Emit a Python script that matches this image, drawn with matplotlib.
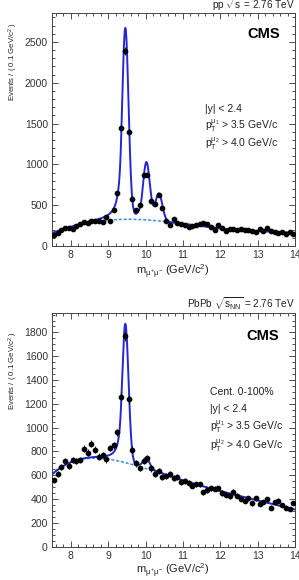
import numpy as np
import matplotlib
matplotlib.use("Agg")
import matplotlib.pyplot as plt
from matplotlib.ticker import MultipleLocator

plt.rcParams['font.family'] = ['Liberation Sans', 'DejaVu Sans']
plt.rcParams['mathtext.fontset'] = 'custom'
plt.rcParams['mathtext.rm'] = 'Liberation Sans'
plt.rcParams['mathtext.it'] = 'Liberation Sans'
plt.rcParams['mathtext.bf'] = 'Liberation Sans:bold'

# bin centres (0.1 GeV bins)
mass = np.round(np.arange(7.55, 14.0, 0.1), 2)

# pp data
pp_counts = [135, 165, 195, 215, 220, 205, 245, 270, 290, 278,
             305, 310, 300, 298, 350, 306, 435, 653, 1445, 2390,
             1395, 572, 445, 500, 865, 875, 555, 515, 620, 470,
             310, 257, 330, 286, 270, 257, 237, 249, 257, 270,
             278, 266, 237, 196, 257, 216, 184, 208, 212, 196,
             204, 196, 196, 188, 167, 204, 184, 220, 188, 171,
             155, 167, 147, 176, 147]

# PbPb data
pbpb_counts = [557, 609, 671, 720, 680, 729, 720, 729, 823, 791,
               863, 814, 757, 771, 734, 829, 851, 960, 1260, 1770,
               1238, 814, 700, 663, 720, 743, 657, 614, 634, 586,
               591, 609, 577, 586, 543, 551, 537, 514, 523, 523,
               457, 477, 491, 486, 491, 451, 437, 423, 463, 429,
               400, 386, 406, 363, 406, 357, 377, 397, 329, 377,
               386, 349, 329, 314, 366]

# fit: background read at these masses, smoothed with a polynomial
bkg_mass = [7.5, 8.0, 8.5, 9.0, 9.5, 10.0, 10.5, 11.0, 11.5, 12.0, 12.5, 13.0, 13.5, 14.0]
pp_bkg = [155, 228, 285, 315, 325, 320, 302, 270, 245, 212, 198, 185, 172, 158]
pbpb_bkg = [612, 691, 750, 745, 700, 657, 600, 557, 514, 471, 429, 386, 349, 314]

# Upsilon(1S, 2S, 3S) peaks: mass, width, height
ups_mass = [9.46, 10.023, 10.355]
ups_sigma = [0.085, 0.09, 0.093]
pp_amp = [2330, 690, 338]
pbpb_amp = [1165, 90, 8]


def crystal_ball(x, mu, sig, alpha=1.4, n=2.0):
    t = (x - mu) / sig
    A = (n / alpha) ** n * np.exp(-alpha ** 2 / 2)
    B = n / alpha - alpha
    out = np.exp(-t ** 2 / 2)
    low = t < -alpha
    out[low] = A * (B - t[low]) ** (-n)
    return out


def draw(ax, counts, bkg, amp, ymax, ymajor, yminor):
    xx = np.linspace(7.5, 14, 800)
    coef = np.polyfit(bkg_mass, bkg, 5)
    bg = np.polyval(coef, xx)
    total = bg.copy()
    for m, s, a in zip(ups_mass, ups_sigma, amp):
        total += a * crystal_ball(xx, m, s)
    ax.plot(xx, bg, color='#3a90e8', lw=1.1, ls=(0, (2, 1.2)), zorder=2)
    ax.plot(xx, total, color='#2626d2', lw=1.4, zorder=3)
    c = np.array(counts, dtype=float)
    ax.errorbar(mass, c, yerr=np.sqrt(c), fmt='o', color='black', ms=3.1,
                elinewidth=0.6, capsize=0, zorder=4)
    ax.set_xlim(7.5, 14)
    ax.set_ylim(0, ymax)
    ax.xaxis.set_major_locator(MultipleLocator(1))
    ax.xaxis.set_minor_locator(MultipleLocator(0.2))
    ax.yaxis.set_major_locator(MultipleLocator(ymajor))
    ax.yaxis.set_minor_locator(MultipleLocator(yminor))
    ax.tick_params(which='both', direction='in', top=True, right=True,
                   labelsize=7.5, colors='#333333', pad=3)
    ax.tick_params(which='major', length=4.5, width=0.6)
    ax.tick_params(which='minor', length=2.5, width=0.6)
    for sp in ax.spines.values():
        sp.set_linewidth(0.7)
        sp.set_color('#444444')


fig = plt.figure(figsize=(2.99, 5.80), dpi=100)


def px(x, y):
    return x / 299, 1 - y / 580


ax1 = fig.add_axes([0.174, 0.5759, 0.813, 0.4017])
draw(ax1, pp_counts, pp_bkg, pp_amp, 2855, 500, 100)
ax2 = fig.add_axes([0.174, 0.0574, 0.813, 0.4029])
draw(ax2, pbpb_counts, pbpb_bkg, pbpb_amp, 1963, 200, 50)

tc = '#222222'
xlab = r"m$_{\mu^{+}\mu^{-}}$ (GeV/c$^{2}$)"
ylab = r"Events / ( 0.1 GeV/c$^{2}$ )"

# top panel text
fig.text(*px(295, 5), r"pp $\sqrt{s}$ = 2.76 TeV", ha='right', va='center', fontsize=7.2, color=tc)
fig.text(*px(264, 34), "CMS", ha='center', va='center', fontsize=10.5, fontweight='bold', color='black')
fig.text(*px(205, 109), "|y| < 2.4", ha='left', va='center', fontsize=7.5, color=tc)
fig.text(*px(205, 126), r"p$_{\mathrm{T}}^{\mu_{1}}$ > 3.5 GeV/c", ha='left', va='center', fontsize=7.5, color=tc)
fig.text(*px(205, 144), r"p$_{\mathrm{T}}^{\mu_{2}}$ > 4.0 GeV/c", ha='left', va='center', fontsize=7.5, color=tc)
fig.text(*px(173, 272), xlab, ha='center', va='center', fontsize=8, color=tc)
fig.text(*px(13, 62), ylab, ha='center', va='center', rotation=90, fontsize=5.6, color=tc)

# bottom panel text
fig.text(*px(295, 304), r"PbPb $\sqrt{s_{\mathrm{NN}}}$ = 2.76 TeV", ha='right', va='center', fontsize=7.2, color=tc)
fig.text(*px(263, 336), "CMS", ha='center', va='center', fontsize=10.5, fontweight='bold', color='black')
fig.text(*px(210, 392), "Cent. 0-100%", ha='left', va='center', fontsize=7.5, color=tc)
fig.text(*px(210, 409), "|y| < 2.4", ha='left', va='center', fontsize=7.5, color=tc)
fig.text(*px(210, 427), r"p$_{\mathrm{T}}^{\mu_{1}}$ > 3.5 GeV/c", ha='left', va='center', fontsize=7.5, color=tc)
fig.text(*px(210, 446), r"p$_{\mathrm{T}}^{\mu_{2}}$ > 4.0 GeV/c", ha='left', va='center', fontsize=7.5, color=tc)
fig.text(*px(173, 571), xlab, ha='center', va='center', fontsize=8, color=tc)
fig.text(*px(13, 371), ylab, ha='center', va='center', rotation=90, fontsize=5.6, color=tc)

fig.savefig("out.png", dpi=100)
